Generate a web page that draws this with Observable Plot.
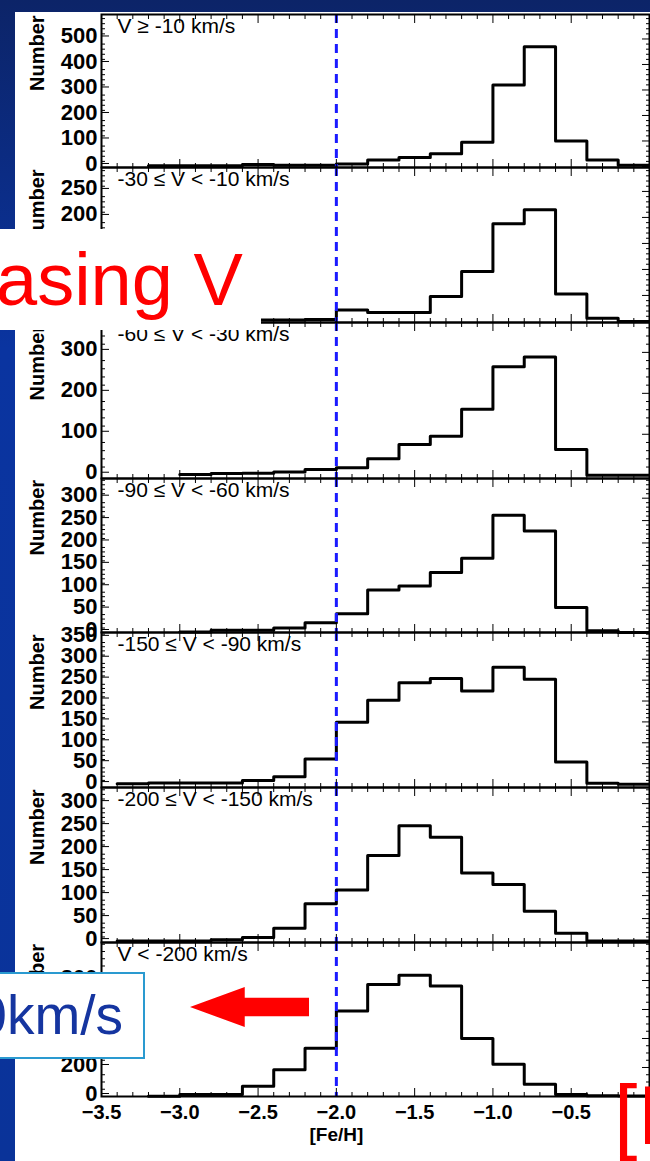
<!DOCTYPE html>
<html><head><meta charset="utf-8">
<script src="https://cdn.jsdelivr.net/npm/d3@7"></script>
<script src="https://cdn.jsdelivr.net/npm/@observablehq/plot@0.6"></script>
<style>
body{margin:0;width:650px;height:1161px;overflow:hidden;background:linear-gradient(#0c2468,#0a34a0 30%,#0a3399);font-family:"Liberation Sans",Arial,sans-serif;position:relative}
#paper{position:absolute;left:15px;top:12px;width:650px;height:1160px;background:#fff}
.panel{position:absolute;left:0;overflow:visible}
.panel svg{overflow:visible;background:transparent}
.ov{position:absolute}
</style></head><body>
<div id="paper"></div>
<div id="charts"></div>
<div class="ov" style="left:0;top:229px;width:261px;height:101px;background:#fff"></div>
<div class="ov" style="left:-4px;top:229px;width:265px;height:101px;color:#f00;font-size:74px;line-height:101px;white-space:nowrap;">asing V</div>
<div class="ov" style="left:-3px;top:972px;width:144px;height:83px;background:#fff;border:2px solid #2a9ad0"></div>
<div class="ov" style="left:-30px;top:972px;width:153px;height:87px;color:#1535a0;font-size:55px;line-height:87px;text-align:right;white-space:nowrap;">0km/s</div>
<div class="ov" style="left:190px;top:987px;width:119px;height:40px;background:#f00;clip-path:polygon(0 50%,46% 0,46% 27%,100% 27%,100% 73%,46% 73%,46% 100%)"></div>
<div class="ov" style="left:614px;top:1070px;color:#f00;font-size:84px;line-height:90px;white-space:nowrap;">[I</div>
<script>
// bin left edges ([Fe/H]), width 0.2
const binStarts = [-3.4,-3.2,-3.0,-2.8,-2.6,-2.4,-2.2,-2.0,-1.8,-1.6,-1.4,-1.2,-1.0,-0.8,-0.6,-0.4,-0.2];
const binEnd = 0;
const labels = ["V ≥ -10 km/s","-30 ≤ V < -10 km/s","-60 ≤ V < -30 km/s","-90 ≤ V < -60 km/s","-150 ≤ V < -90 km/s","-200 ≤ V < -150 km/s","V < -200 km/s"];
const counts1 = [null,3,3,3,8,5,5,10,25,35,50,95,320,470,100,25,5];
const counts2 = [null,2,2,3,3,3,4,22,17,17,48,96,188,215,53,6,0];
const counts3 = [null,null,2,4,5,8,14,18,40,75,95,161,265,289,63,0,0];
const counts4 = [null,null,1,5,5,10,22,42,95,104,134,166,262,227,56,4,0];
const counts5 = [2,4,4,4,10,19,61,149,202,244,254,224,281,252,54,3,1];
const counts6 = [1,1,1,4,9,29,82,112,187,252,227,149,124,66,18,1,1];
const counts7 = [null,2,13,13,70,185,333,590,773,836,762,400,222,84,13,5,3];
const allCounts = [counts1,counts2,counts3,counts4,counts5,counts6,counts7];
const yTicks = [[0,100,200,300,400,500],[0,50,100,150,200,250],[0,100,200,300],[0,50,100,150,200,250,300],[0,50,100,150,200,250,300,350],[0,50,100,150,200,250,300],[0,200,400,600,800]];
const yMinor = [20,10,20,10,10,10,50];
const yDomains = [[-4,596],[-2,296],[-8,373],[0,344],[-7,364],[-2,335],[0,1062]];
const frameTop = [14,167,322,478,632,787,942];
const frameBottom = [167,322,478,632,787,942,1096];
const xMajor = [-3.5,-3.0,-2.5,-2.0,-1.5,-1.0,-0.5,0];
const xMinor = [-3.4,-3.3,-3.2,-3.1,-2.9,-2.8,-2.7,-2.6,-2.4,-2.3,-2.2,-2.1,-1.9,-1.8,-1.7,-1.6,-1.4,-1.3,-1.2,-1.1,-0.9,-0.8,-0.7,-0.6,-0.4,-0.3,-0.2,-0.1];
const cut = -2.0;

const host = document.getElementById("charts");
const blank = () => "";
allCounts.forEach((counts, i) => {
  const last = i === allCounts.length - 1;
  const pts = [];
  counts.forEach((c, j) => { if (c != null) pts.push({x: binStarts[j], y: c}); });
  pts.push({x: binEnd, y: pts[pts.length - 1].y});
  const [y0, y1] = yDomains[i];
  const minor = d3.range(0, y1, yMinor[i]).filter(v => !yTicks[i].includes(v));
  const h = frameBottom[i] - frameTop[i];
  const marks = [
    Plot.lineY(pts, {x: "x", y: "y", curve: "step-after", stroke: "#000", strokeWidth: 3}),
    Plot.ruleX([cut], {stroke: "#1a1aff", strokeWidth: 3, strokeDasharray: "9,6"}),
    Plot.frame({stroke: "#000", strokeWidth: 2}),
    Plot.axisX({anchor: "bottom", ticks: xMajor, tickSize: -8, tickFormat: blank, label: null}),
    Plot.axisX({anchor: "top", ticks: xMajor, tickSize: -8, tickFormat: blank, label: null}),
    Plot.axisX({anchor: "bottom", ticks: xMinor, tickSize: -4, tickFormat: blank, label: null}),
    Plot.axisX({anchor: "top", ticks: xMinor, tickSize: -4, tickFormat: blank, label: null}),
    Plot.axisY({anchor: "left", ticks: yTicks[i], tickSize: -8, tickPadding: 12, label: null, dy: -3, fontSize: 22, fontWeight: "bold", fill: "#000"}),
    Plot.axisY({anchor: "right", ticks: yTicks[i], tickSize: -8, tickFormat: blank, label: null}),
    Plot.axisY({anchor: "left", ticks: minor, tickSize: -4, tickFormat: blank, label: null}),
    Plot.axisY({anchor: "right", ticks: minor, tickSize: -4, tickFormat: blank, label: null}),
    Plot.text([labels[i]], {frameAnchor: "top-left", dx: 16, dy: 4, textAnchor: "start", lineAnchor: "top", fontSize: 21, fill: "#000"}),
    Plot.text(["Number"], {frameAnchor: "left", dx: -64, rotate: -90, fontSize: 20, fontWeight: "bold", fill: "#000"})
  ];
  if (last) {
    marks.push(Plot.axisX({anchor: "bottom", ticks: xMajor.slice(0, 7), tickSize: 0, tickPadding: 8, tickFormat: d3.format(".1f"), label: null, fontSize: 20, fontWeight: "bold", fill: "#000"}));
    marks.push(Plot.text(["[Fe/H]"], {x: cut, frameAnchor: "bottom", dy: 44, fontSize: 19, fontWeight: "bold", fill: "#000"}));
  }
  const chart = Plot.plot({
    width: 650, height: h + (last ? 65 : 0),
    marginLeft: 101, marginRight: 1, marginTop: 0, marginBottom: last ? 65 : 0,
    x: {domain: [-3.5, 0]},
    y: {domain: [y0, y1]},
    style: {background: "transparent", overflow: "visible", fontFamily: "'Liberation Sans', Arial, sans-serif"},
    marks
  });
  const div = document.createElement("div");
  div.className = "panel";
  div.style.top = frameTop[i] + "px";
  div.appendChild(chart);
  host.appendChild(div);
});
</script>
</body></html>
